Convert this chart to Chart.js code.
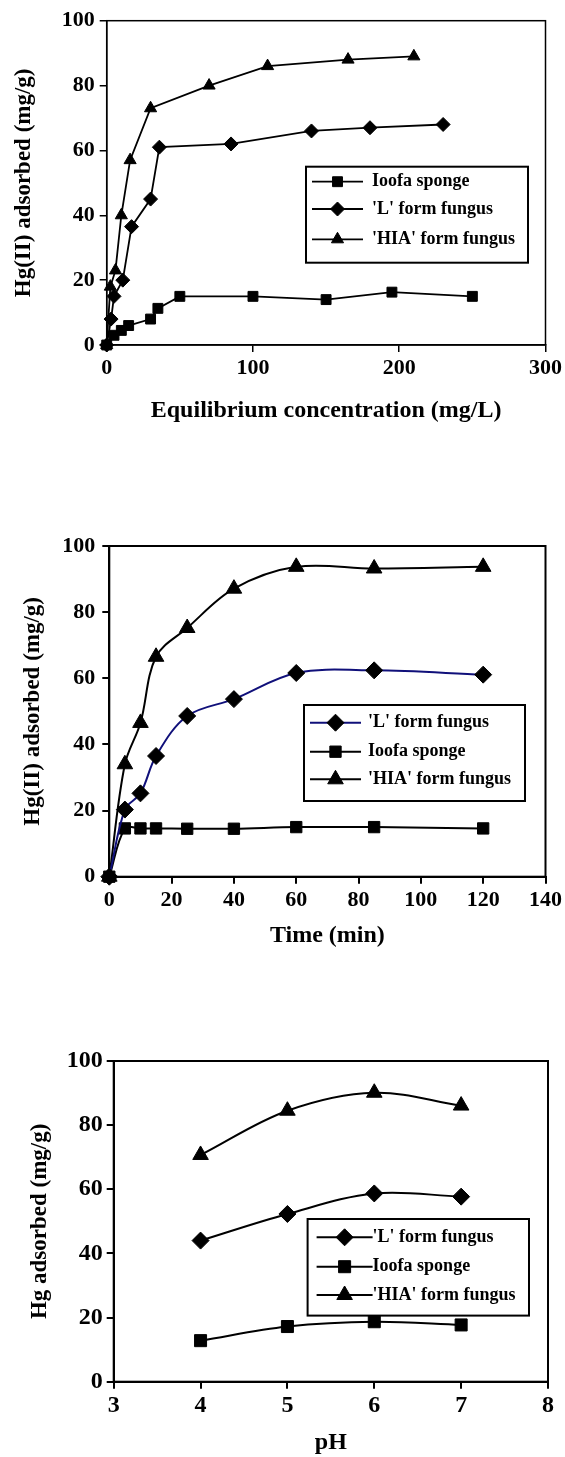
<!DOCTYPE html>
<html>
<head>
<meta charset="utf-8">
<script src="https://cdn.jsdelivr.net/npm/chart.js@4.4.1/dist/chart.umd.min.js"></script>
<style>
  html, body { margin: 0; padding: 0; background: #fff; }
  #page { position: relative; width: 565px; height: 1457px; overflow: hidden; }
  #page canvas { position: absolute; left: 0; }
</style>
</head>
<body>
<div id="page">
  <canvas id="chart-isotherm" width="565" height="425" style="top:0"></canvas>
  <canvas id="chart-kinetics" width="565" height="525" style="top:425px"></canvas>
  <canvas id="chart-ph" width="565" height="507" style="top:950px"></canvas>
</div>
<script>
/* Hg(II) uptake — loofa sponge vs. the two fungus forms, three panels */
/* global Chart */

const $ = (sel) => document.querySelector(sel);

// ─── Data ────────────────────────────────────────────────────────────────────

// Panel 1: equilibrium concentration (mg/L) vs. Hg(II) adsorbed (mg/g)
const isoLoofaConc = [0, 5, 10, 15, 30, 35, 50, 100, 150, 195, 250];
const isoLoofaQ    = [0, 3, 4.5, 6, 8, 11.3, 15, 15, 14, 16.3, 15];
const isoLConc     = [0, 3, 5, 11, 17, 30, 36, 85, 140, 180, 230];
const isoLQ        = [0, 8, 15, 20, 36.5, 45, 61, 62, 66, 67, 68];
const isoHiaConc   = [0, 2.5, 6, 10, 16, 30, 70, 110, 165, 210];
const isoHiaQ      = [0, 18, 23, 40, 57, 73, 80, 86, 88, 89];

// Panel 2: contact time (min)
const timeMin      = [0, 5, 10, 15, 25, 40, 60, 85, 120];
const kinL         = [0, 20.3, 25.2, 36.5, 48.6, 53.7, 61.6, 62.4, 61.1];
const kinLoofa     = [0, 14.6, 14.6, 14.6, 14.5, 14.5, 15, 15, 14.6];
const kinHia       = [0, 34, 46.5, 66.5, 75.2, 87.1, 93.7, 93.2, 93.7];

// Panel 3: pH
const phValues     = [4, 5, 6, 7];
const phL          = [44, 52.3, 58.7, 57.7];
const phLoofa      = [12.8, 17.2, 18.7, 17.7];
const phHia        = [70.7, 84.5, 90.1, 86.1];

const yTicks = { min: 0, max: 100, step: 20 };

const LABEL_LOOFA = "Ioofa sponge";
const LABEL_L = "'L' form fungus";
const LABEL_HIA = "'HIA' form fungus";

// ─── Chart.js setup ──────────────────────────────────────────────────────────

const FONT = "'Liberation Serif', 'Times New Roman', serif";
Chart.defaults.font.family = FONT;
Chart.defaults.font.weight = "bold";
Chart.defaults.color = "#000";

// full box round the plot area (Chart.js only draws the left/bottom borders)
const framePlugin = {
  id: "frame",
  beforeDatasetsDraw(chart, args, opts) {
    const { ctx, chartArea: a } = chart;
    ctx.save();
    ctx.strokeStyle = "#000";
    ctx.lineWidth = opts.width;
    ctx.strokeRect(a.left, a.top, a.right - a.left, a.bottom - a.top);
    ctx.restore();
  },
};

// boxed legend with a line + marker sample, as in the original figure
const boxLegendPlugin = {
  id: "boxLegend",
  afterDraw(chart, args, opts) {
    const { ctx } = chart;
    ctx.save();
    ctx.lineWidth = 2;
    ctx.strokeStyle = "#000";
    ctx.strokeRect(opts.x, opts.y, opts.w, opts.h);
    ctx.font = `bold ${opts.fontSize}px ${FONT}`;
    ctx.textBaseline = "middle";
    chart.data.datasets.forEach((ds, i) => {
      const rowY = opts.y + opts.rows[i];
      const x0 = opts.x + opts.lineFrom;
      const x1 = opts.x + opts.lineTo;
      ctx.strokeStyle = ds.borderColor;
      ctx.lineWidth = ds.borderWidth;
      ctx.beginPath();
      ctx.moveTo(x0, rowY);
      ctx.lineTo(x1, rowY);
      ctx.stroke();
      ctx.fillStyle = ds.pointBackgroundColor;
      ctx.strokeStyle = ds.pointBorderColor;
      ctx.lineWidth = 1;
      Chart.helpers.drawPoint(ctx, {
        pointStyle: ds.pointStyle, radius: ds.pointRadius, rotation: 0, borderWidth: 1,
      }, (x0 + x1) / 2, rowY);
      ctx.fillStyle = "#000";
      ctx.fillText(ds.label, opts.x + opts.textX, rowY);
    });
    ctx.restore();
  },
};

function series(label, xs, ys, style) {
  return {
    label,
    data: xs.map((x, i) => ({ x, y: ys[i] })),
    borderColor: style.color || "#000",
    borderWidth: style.lineWidth,
    pointStyle: style.marker,
    pointRadius: style.radius,
    pointHoverRadius: style.radius,
    pointBackgroundColor: "#000",
    pointBorderColor: "#000",
    pointBorderWidth: 1,
    tension: style.tension || 0,
    clip: false,
  };
}

function axisCommon(tickSize, tickPad, title, lineWidth) {
  return {
    type: "linear",
    ticks: { padding: tickPad, font: { size: tickSize }, color: "#000" },
    grid: { drawOnChartArea: false, drawTicks: true, tickLength: 7, color: "#000", lineWidth },
    border: { display: true, color: "#000", width: lineWidth },
    title: { display: true, text: title, font: { size: 24 }, padding: 0, color: "#000" },
  };
}

function makePanel(sel, p) {
  const x = axisCommon(p.tickSize, p.xTickPad, p.xTitle, p.frame);
  x.min = p.xMin;
  x.max = p.xMax;
  x.ticks.stepSize = p.xStep;
  x.afterFit = (axis) => { axis.height = p.xHeight; };

  const y = axisCommon(p.tickSize, p.yTickPad, p.yTitle, p.frame);
  y.min = yTicks.min;
  y.max = yTicks.max;
  y.ticks.stepSize = yTicks.step;
  y.title.font = { size: 23 };
  y.afterFit = (axis) => { axis.width = p.yWidth; };

  return new Chart($(sel), {
    type: "line",
    data: { datasets: p.datasets },
    options: {
      responsive: false,
      animation: false,
      devicePixelRatio: 1,
      layout: { padding: p.padding },
      scales: { x, y },
      plugins: {
        legend: { display: false },
        tooltip: { enabled: false },
        frame: { width: p.frame },
        boxLegend: p.legend,
      },
    },
    plugins: [framePlugin, boxLegendPlugin],
  });
}

// ─── Panels ──────────────────────────────────────────────────────────────────

makePanel("#chart-isotherm", {
  xMin: 0, xMax: 300, xStep: 100,
  xTitle: "Equilibrium concentration (mg/L)",
  yTitle: "Hg(II) adsorbed (mg/g)",
  tickSize: 22, xTickPad: 3, yTickPad: 5, frame: 1.5,
  xHeight: 80, yWidth: 96.7,
  padding: { left: 10, top: 20.7, right: 18.3, bottom: 0 },
  legend: { x: 306, y: 166.7, w: 222, h: 96, rows: [15, 42.3, 72.6],
    lineFrom: 6, lineTo: 57, textX: 66, fontSize: 18 },
  datasets: [
    series(LABEL_LOOFA, isoLoofaConc, isoLoofaQ, { marker: "rect", radius: 7, lineWidth: 1.8 }),
    series(LABEL_L, isoLConc, isoLQ, { marker: "rectRot", radius: 7, lineWidth: 1.8 }),
    series(LABEL_HIA, isoHiaConc, isoHiaQ, { marker: "triangle", radius: 7, lineWidth: 1.8 }),
  ],
});

makePanel("#chart-kinetics", {
  xMin: 0, xMax: 140, xStep: 20,
  xTitle: "Time (min)",
  yTitle: "Hg(II) adsorbed (mg/g)",
  tickSize: 22, xTickPad: 3, yTickPad: 7, frame: 2,
  xHeight: 73.3, yWidth: 90.3,
  padding: { left: 19, top: 121, right: 19.3, bottom: 0 },
  legend: { x: 304, y: 280, w: 221, h: 96, rows: [17.7, 46.7, 74.3],
    lineFrom: 6, lineTo: 57, textX: 64, fontSize: 18 },
  datasets: [
    series(LABEL_L, timeMin, kinL, { marker: "rectRot", radius: 8.5, lineWidth: 2, color: "#10107a", tension: 0.35 }),
    series(LABEL_LOOFA, timeMin, kinLoofa, { marker: "rect", radius: 8, lineWidth: 2, tension: 0.35 }),
    series(LABEL_HIA, timeMin, kinHia, { marker: "triangle", radius: 9, lineWidth: 2, tension: 0.35 }),
  ],
});

makePanel("#chart-ph", {
  xMin: 3, xMax: 8, xStep: 1,
  xTitle: "pH",
  yTitle: "Hg adsorbed (mg/g)",
  tickSize: 24, xTickPad: 3, yTickPad: 4, frame: 2,
  xHeight: 75.3, yWidth: 87.7,
  padding: { left: 26, top: 111, right: 17, bottom: 0 },
  legend: { x: 307.6, y: 269, w: 221.4, h: 96.6, rows: [18.3, 47.7, 76],
    lineFrom: 9, lineTo: 65, textX: 65, fontSize: 18 },
  datasets: [
    series(LABEL_L, phValues, phL, { marker: "rectRot", radius: 8.5, lineWidth: 2, tension: 0.35 }),
    series(LABEL_LOOFA, phValues, phLoofa, { marker: "rect", radius: 8.5, lineWidth: 2, tension: 0.35 }),
    series(LABEL_HIA, phValues, phHia, { marker: "triangle", radius: 9, lineWidth: 2, tension: 0.35 }),
  ],
});
</script>
</body>
</html>
